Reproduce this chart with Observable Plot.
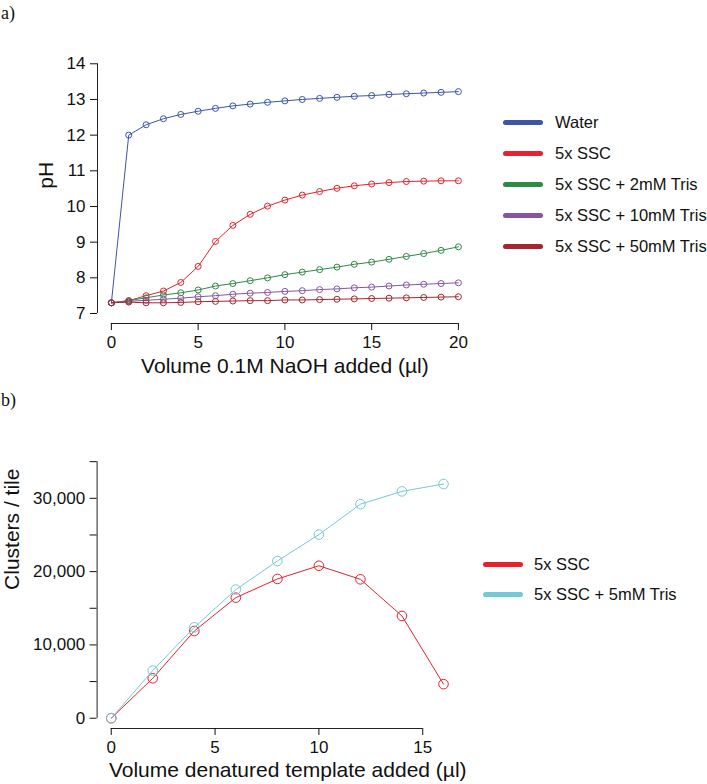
<!DOCTYPE html>
<html><head><meta charset="utf-8">
<script src="https://cdn.jsdelivr.net/npm/d3@7"></script>
<script src="https://cdn.jsdelivr.net/npm/@observablehq/plot@0.6"></script>
<style>
body{margin:0;background:#fff;font-family:"Liberation Sans",Arial,sans-serif;color:#111;}
#root{position:relative;width:707px;height:784px;overflow:hidden;background:#fff;}
.panel{position:absolute;left:0;}
.tag{position:absolute;left:1px;font-family:"Liberation Serif","Times New Roman",serif;font-size:18px;line-height:20px;}
.row{position:absolute;white-space:nowrap;height:0;font-size:16.5px;}
.sw{position:absolute;left:0;width:40px;height:5px;border-radius:3px;top:-2.5px;}
.lt{position:absolute;top:0;transform:translateY(-50%);line-height:20px;}
</style></head>
<body><div id="root"></div>
<script>
// ---------- Data: panel a ----------
const volNaOH = [0,1,2,3,4,5,6,7,8,9,10,11,12,13,14,15,16,17,18,19,20];
const namesA = ["Water","5x SSC","5x SSC + 2mM Tris","5x SSC + 10mM Tris","5x SSC + 50mM Tris"];
const colorsA = ["#3d55a5","#e8222c","#2f8a48","#8656a4","#a3272c"];
const phWater  = [7.3,12.0,12.29,12.46,12.58,12.67,12.75,12.82,12.87,12.92,12.96,13.0,13.03,13.06,13.09,13.11,13.14,13.16,13.18,13.2,13.22];
const phSSC    = [7.3,7.36,7.5,7.63,7.87,8.32,9.02,9.47,9.78,10.01,10.18,10.32,10.42,10.51,10.58,10.63,10.67,10.7,10.71,10.72,10.72];
const phTris2  = [7.3,7.36,7.44,7.52,7.58,7.66,7.77,7.84,7.92,8.0,8.09,8.16,8.23,8.3,8.38,8.44,8.52,8.6,8.68,8.77,8.87];
const phTris10 = [7.3,7.34,7.37,7.4,7.43,7.47,7.5,7.54,7.57,7.59,7.62,7.64,7.67,7.69,7.72,7.74,7.77,7.8,7.82,7.84,7.86];
const phTris50 = [7.3,7.32,7.3,7.3,7.31,7.33,7.34,7.35,7.36,7.36,7.38,7.38,7.39,7.4,7.41,7.42,7.43,7.44,7.45,7.46,7.47];
const ticksAx = [0,5,10,15,20];
const ticksAy = [7,8,9,10,11,12,13,14];

// ---------- Data: panel b ----------
const volTemplate = [0,2,4,6,8,10,12,14,16];
const namesB = ["5x SSC","5x SSC + 5mM Tris"];
const colorsB = ["#e8222c","#74c9d8"];
const clSSC   = [0,5450,11900,16450,19000,20800,18950,13950,4650];
const clTris5 = [0,6500,12400,17550,21450,25050,29200,30950,31950];
const ticksBx = [0,5,10,15];
const ticksBy = [0,5000,10000,15000,20000,25000,30000,35000];

const root = document.getElementById("root");
const FONT = "'Liberation Sans', Arial, Helvetica, sans-serif";

function seriesMarks(xs, seriesVals, colors, r) {
  const marks = [];
  seriesVals.forEach((vals, k) => {
    const rows = vals.map((v, i) => ({x: xs[i], y: v}));
    marks.push(Plot.line(rows, {x: "x", y: "y", stroke: colors[k], strokeWidth: 1}));
    marks.push(Plot.dot(rows, {x: "x", y: "y", stroke: colors[k], fill: "none", r, strokeWidth: 1}));
  });
  return marks;
}

// ---------- Panel a ----------
const plotA = Plot.plot({
  width: 707, height: 380,
  marginLeft: 97, marginRight: 235.2, marginTop: 53.3, marginBottom: 57,
  style: {fontFamily: FONT, background: "transparent", color: "#111", overflow: "visible"},
  x: {domain: [-0.8, 20.8]},
  y: {domain: [6.72, 14.28]},
  marks: [
    Plot.ruleX([-0.8], {y1: 7, y2: 14, stroke: "#222"}),
    Plot.ruleY([6.72], {x1: 0, x2: 20, stroke: "#222"}),
    Plot.axisY({ticks: ticksAy, tickSize: 7, tickPadding: 5, fontSize: 17, label: null}),
    Plot.axisX({ticks: ticksAx, tickSize: 7, tickPadding: 5, fontSize: 17, label: null}),
    Plot.text(["Volume 0.1M NaOH added (µl)"], {text: d => d, frameAnchor: "bottom", dy: 43, fontSize: 21, lineAnchor: "middle"}),
    Plot.text(["pH"], {text: d => d, frameAnchor: "left", dx: -51, rotate: -90, fontSize: 21, lineAnchor: "middle"}),
    ...seriesMarks(volNaOH, [phWater, phSSC, phTris2, phTris10, phTris50], colorsA, 3)
  ]
});
plotA.classList.add("panel");
plotA.style.top = "0px";
root.appendChild(plotA);

// ---------- Panel b ----------
const plotB = Plot.plot({
  width: 707, height: 404,
  marginLeft: 96.6, marginRight: 229.1, marginTop: 70.9, marginBottom: 56,
  style: {fontFamily: FONT, background: "transparent", color: "#111", overflow: "visible"},
  x: {domain: [-0.68, 17.68]},
  y: {domain: [-1400, 36400]},
  marks: [
    Plot.ruleX([-0.68], {y1: 0, y2: 35000, stroke: "#222"}),
    Plot.ruleY([-1400], {x1: 0, x2: 15, stroke: "#222"}),
    Plot.axisY({ticks: ticksBy, tickSize: 7, tickPadding: 5, fontSize: 17, label: null,
      tickFormat: d => d % 10000 === 0 ? d3.format(",")(d) : ""}),
    Plot.axisX({ticks: ticksBx, tickSize: 7, tickPadding: 5, fontSize: 17, label: null}),
    Plot.text(["Volume denatured template added (µl)"], {text: d => d, frameAnchor: "bottom", dy: 42, fontSize: 21, lineAnchor: "middle"}),
    Plot.text(["Clusters / tile"], {text: d => d, frameAnchor: "left", dx: -85, rotate: -90, fontSize: 21, lineAnchor: "middle"}),
    ...seriesMarks(volTemplate, [clSSC, clTris5], colorsB, 4.8)
  ]
});
plotB.classList.add("panel");
plotB.style.top = "380px";
root.appendChild(plotB);

// ---------- Legends & panel tags ----------
function legend(names, colors, left, textLeft, tops) {
  names.forEach((n, i) => {
    const row = document.createElement("div");
    row.className = "row";
    row.style.left = left + "px";
    row.style.top = tops[i] + "px";
    const sw = document.createElement("div");
    sw.className = "sw";
    sw.style.background = colors[i];
    const t = document.createElement("div");
    t.className = "lt";
    t.style.left = (textLeft - left) + "px";
    t.textContent = n;
    row.appendChild(sw); row.appendChild(t);
    root.appendChild(row);
  });
}
legend(namesA, colorsA, 503, 555, [122, 153, 184, 215, 246]);
legend(namesB, colorsB, 483, 534, [564, 594]);

function tag(txt, top) {
  const d = document.createElement("div");
  d.className = "tag"; d.style.top = top + "px"; d.textContent = txt;
  root.appendChild(d);
}
tag("a)", 3);
tag("b)", 390);
</script>
</body></html>
